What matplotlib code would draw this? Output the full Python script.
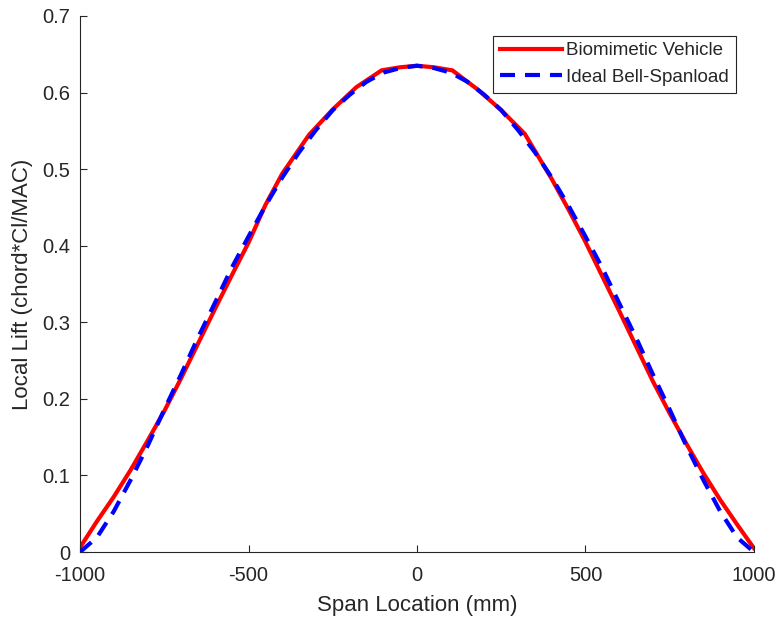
import matplotlib
matplotlib.use("Agg")
import matplotlib.pyplot as plt

plt.rcParams['font.family'] = ['Liberation Sans', 'DejaVu Sans']

# Biomimetic vehicle spanload
span_bio = [-1000, -950, -900, -850, -800, -750, -700, -650, -600, -550, -500, -450,
            -400, -320, -250, -180, -105, -50, 0, 50, 105, 180, 250, 320, 400, 450,
            500, 550, 600, 650, 700, 750, 800, 850, 900, 950, 1000]
lift_bio = [0.006, 0.040, 0.072, 0.107, 0.145, 0.184, 0.227, 0.272, 0.317, 0.361,
            0.404, 0.453, 0.494, 0.545, 0.578, 0.607, 0.629, 0.633, 0.635, 0.633,
            0.629, 0.604, 0.577, 0.546, 0.487, 0.447, 0.405, 0.360, 0.315, 0.269,
            0.223, 0.181, 0.141, 0.103, 0.068, 0.036, 0.005]

# Ideal bell spanload
span_bell = [-1000, -950, -900, -850, -800, -750, -700, -650, -600, -550, -500, -450,
             -400, -350, -300, -250, -200, -150, -100, -50, 0, 50, 100, 150, 200, 250,
             300, 350, 400, 450, 500, 550, 600, 650, 700, 750, 800, 850, 900, 950, 1000]
lift_bell = [0.000, 0.019, 0.053, 0.094, 0.138, 0.186, 0.232, 0.280, 0.325, 0.371,
             0.412, 0.452, 0.489, 0.522, 0.551, 0.577, 0.597, 0.614, 0.626, 0.632,
             0.635, 0.632, 0.626, 0.614, 0.597, 0.577, 0.551, 0.522, 0.489, 0.452,
             0.412, 0.371, 0.325, 0.280, 0.232, 0.186, 0.138, 0.094, 0.053, 0.019, 0.000]

xticks = [-1000, -500, 0, 500, 1000]
yticks = [0, 0.1, 0.2, 0.3, 0.4, 0.5, 0.6, 0.7]
ytick_labels = ['0', '0.1', '0.2', '0.3', '0.4', '0.5', '0.6', '0.7']

fig = plt.figure(figsize=(7.8, 6.19), dpi=100)
ax = fig.add_axes([0.1026, 0.1082, 0.864, 0.866])

ax.plot(span_bio, lift_bio, color='#ff0000', lw=3, label='Biomimetic Vehicle', zorder=2)
ax.plot(span_bell, lift_bell, color='#0000ff', lw=3, dashes=(3.6, 2.4),
        label='Ideal Bell-Spanload', zorder=3)

ax.set_xlim(-1000, 1000)
ax.set_ylim(0, 0.7)
ax.set_xticks(xticks)
ax.set_xticklabels([str(t) for t in xticks])
ax.set_yticks(yticks)
ax.set_yticklabels(ytick_labels)

for s in ['top', 'right']:
    ax.spines[s].set_visible(False)
for s in ['left', 'bottom']:
    ax.spines[s].set_color('#262626')
    ax.spines[s].set_linewidth(0.8)

ax.tick_params(direction='in', length=5, width=0.8, colors='#262626',
               labelsize=14.5)
ax.tick_params(axis='x', pad=10)
ax.tick_params(axis='y', pad=7)

ax.set_xlabel('Span Location (mm)', fontsize=16, color='#262626', labelpad=7)
ax.set_ylabel('Local Lift (chord*Cl/MAC)', fontsize=16, color='#262626', labelpad=7)

leg = ax.legend(loc='upper right', bbox_to_anchor=(0.973, 0.963), fontsize=13.5,
                handlelength=3.3, handletextpad=0.25, borderpad=0.35,
                labelspacing=0.5, fancybox=False, framealpha=1, borderaxespad=0)
leg.get_frame().set_edgecolor('#262626')
leg.get_frame().set_linewidth(0.8)
for t in leg.get_texts():
    t.set_color('#262626')

fig.savefig('out.png', dpi=100)
